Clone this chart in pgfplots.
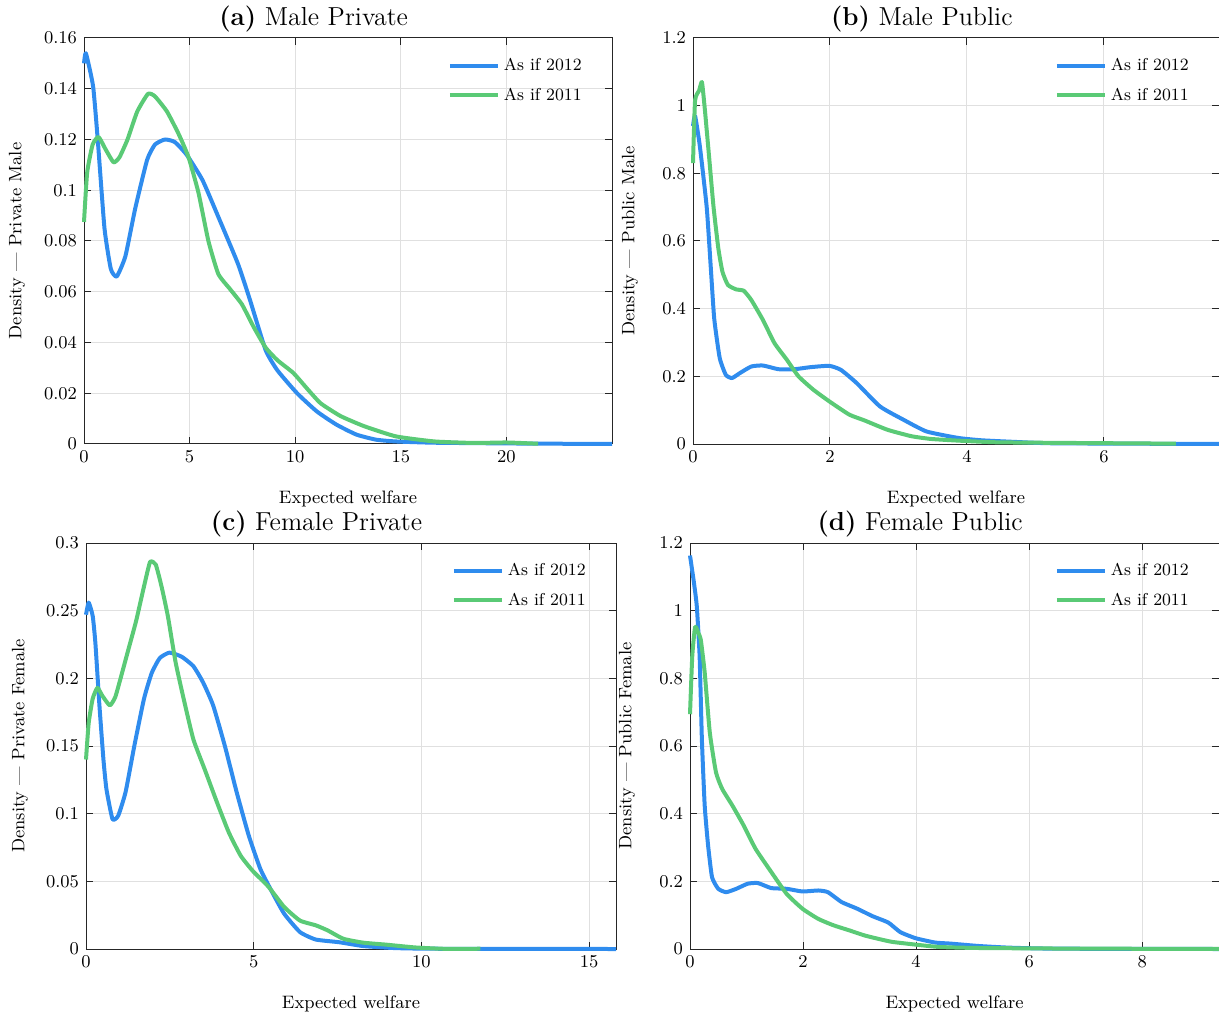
\documentclass[border=0pt]{standalone}
\usepackage{pgfplots}
\pgfplotsset{compat=1.18}
\definecolor{cblue}{RGB}{47,140,238}
\definecolor{cgreen}{RGB}{90,202,118}
\pgfplotsset{
  panel/.style={
    scale only axis, anchor=north west,
    xmin=0, ymin=0, clip=false,
    grid=major, major grid style={black!12, line width=0.5pt},
    axis line style={black!85, line width=0.5pt},
    tick style={black!85, line width=0.5pt},
    major tick length=3.5pt,
    tick align=inside,
    tick label style={font=\fontsize{9}{10}\selectfont},
    scaled y ticks=false,
    yticklabel style={/pgf/number format/fixed, /pgf/number format/precision=2},
    xlabel={Expected welfare},
    xlabel style={font=\fontsize{9}{10}\selectfont, at={([yshift=-27.5pt]axis description cs:0.5,0)}, anchor=center},
    ylabel style={font=\fontsize{9}{10}\selectfont, anchor=center},
    legend style={draw=none, fill=none, at={(axis description cs:1,1)}, anchor=north east,
      xshift=-10pt, yshift=-6pt, font=\fontsize{8.6}{10}\selectfont, row sep=3pt},
    legend cell align=left,
    legend image code/.code={\draw[#1, line width=2pt] (-3pt,0pt) -- (21pt,0pt);},
    every axis plot/.append style={line width=2pt, line join=round, smooth, tension=0.3},
  }
}
\newcommand{\paneltitle}[1]{\node[font=\fontsize{13}{14}\selectfont, anchor=center] at ([yshift=9.5pt]rel axis cs:0.435,1) {#1};}
\begin{document}
\begin{tikzpicture}
\path[use as bounding box] (0,0) rectangle (609.5pt,-507.5pt);

% (a)
\begin{axis}[panel, at={(42pt,-19pt)}, width=264pt, height=203pt,
  xmax=25, ymax=0.16, xtick={0,5,10,15,20}, ytick={0,0.02,0.04,0.06,0.08,0.1,0.12,0.14,0.16},
  ylabel={Density --- Private Male},
  ylabel style={at={([xshift=-33.5pt]axis description cs:0,0.5)}}]
\addplot[cblue] coordinates {(0,0.150)(0.09,0.154)(0.43,0.141)(0.65,0.120)(0.97,0.085)(1.27,0.069)(1.55,0.066)(1.96,0.074)(2.43,0.093)(2.99,0.112)(3.36,0.118)(3.83,0.120)(4.30,0.119)(4.86,0.114)(5.61,0.104)(6.36,0.0895)(7.29,0.071)(7.85,0.057)(8.60,0.037)(9.16,0.029)(10.09,0.020)(11.03,0.0128)(11.96,0.0076)(12.9,0.0037)(13.83,0.0017)(14.77,0.001)(16.6,0.0005)(20.4,0.0002)(25,0)};
\addlegendentry{As if 2012}
\addplot[cgreen] coordinates {(0,0.0875)(0.15,0.107)(0.41,0.118)(0.69,0.121)(1.03,0.116)(1.40,0.111)(1.68,0.113)(2.06,0.120)(2.52,0.131)(3.03,0.138)(3.36,0.137)(3.93,0.131)(4.49,0.122)(4.95,0.113)(5.42,0.099)(5.89,0.080)(6.36,0.067)(6.92,0.061)(7.48,0.055)(8.04,0.046)(8.60,0.038)(9.16,0.033)(9.91,0.028)(10.65,0.021)(11.21,0.016)(12.15,0.011)(13.27,0.007)(14.77,0.003)(16.6,0.001)(18.5,0.0004)(20,0.0006)(21.5,0.0001)};
\addlegendentry{As if 2011}
\paneltitle{\textbf{(a)} Male Private}
\end{axis}

% (b)
\begin{axis}[panel, at={(346.5pt,-19pt)}, width=263pt, height=203pt,
  xmax=7.68, ymax=1.2, xtick={0,2,4,6}, ytick={0,0.2,0.4,0.6,0.8,1,1.2},
  ylabel={Density --- Public Male},
  ylabel style={at={([xshift=-31.5pt]axis description cs:0,0.5)}}]
\addplot[cblue] coordinates {(0,0.94)(0.03,0.97)(0.1,0.88)(0.2,0.70)(0.26,0.52)(0.31,0.37)(0.39,0.254)(0.48,0.204)(0.57,0.195)(0.68,0.209)(0.85,0.229)(1.02,0.232)(1.25,0.221)(1.48,0.221)(1.71,0.227)(1.99,0.231)(2.16,0.219)(2.39,0.180)(2.73,0.111)(3.07,0.072)(3.41,0.037)(3.87,0.018)(4.21,0.011)(4.72,0.006)(5.29,0.002)(7.68,0)};
\addlegendentry{As if 2012}
\addplot[cgreen] coordinates {(0,0.83)(0.03,1.015)(0.09,1.045)(0.13,1.07)(0.17,0.995)(0.23,0.86)(0.30,0.70)(0.37,0.578)(0.43,0.509)(0.51,0.470)(0.63,0.457)(0.74,0.453)(0.85,0.426)(1.02,0.367)(1.19,0.298)(1.37,0.249)(1.54,0.2)(1.76,0.16)(1.99,0.126)(2.28,0.087)(2.50,0.070)(2.84,0.042)(3.19,0.023)(3.47,0.015)(3.87,0.010)(4.44,0.005)(5.57,0.003)(7.05,0.001)};
\addlegendentry{As if 2011}
\paneltitle{\textbf{(b)} Male Public}
\end{axis}

% (c)
\begin{axis}[panel, at={(43pt,-271.5pt)}, width=265pt, height=203pt,
  xmax=15.8, ymax=0.3, xtick={0,5,10,15}, ytick={0,0.05,0.1,0.15,0.2,0.25,0.3},
  ylabel={Density --- Private Female},
  ylabel style={at={([xshift=-33pt]axis description cs:0,0.5)}}]
\addplot[cblue] coordinates {(0,0.247)(0.08,0.256)(0.2,0.246)(0.28,0.226)(0.40,0.180)(0.52,0.140)(0.61,0.118)(0.79,0.096)(0.96,0.0985)(1.18,0.116)(1.44,0.150)(1.73,0.185)(1.96,0.204)(2.2,0.215)(2.49,0.219)(2.85,0.216)(3.2,0.209)(3.49,0.197)(3.79,0.180)(4.14,0.150)(4.49,0.116)(4.85,0.084)(5.2,0.059)(5.55,0.042)(5.91,0.026)(6.38,0.0125)(6.85,0.007)(7.55,0.005)(8.26,0.0022)(9.2,0.0007)(10.4,0.0002)(15.8,0)};
\addlegendentry{As if 2012}
\addplot[cgreen] coordinates {(0,0.140)(0.08,0.167)(0.2,0.185)(0.34,0.193)(0.49,0.187)(0.71,0.180)(0.87,0.186)(1.02,0.199)(1.26,0.221)(1.49,0.242)(1.73,0.268)(1.91,0.286)(2.08,0.284)(2.26,0.267)(2.44,0.246)(2.67,0.212)(2.91,0.185)(3.2,0.155)(3.55,0.132)(3.91,0.108)(4.26,0.086)(4.61,0.069)(4.96,0.058)(5.44,0.046)(5.91,0.031)(6.38,0.021)(6.85,0.0175)(7.2,0.0138)(7.67,0.0076)(8.26,0.0047)(8.96,0.0032)(9.79,0.0012)(10.6,0.0002)(11.76,0.0002)};
\addlegendentry{As if 2011}
\paneltitle{\textbf{(c)} Female Private}
\end{axis}

% (d)
\begin{axis}[panel, at={(345pt,-271.5pt)}, width=264.5pt, height=203pt,
  xmax=9.36, ymax=1.2, xtick={0,2,4,6,8}, ytick={0,0.2,0.4,0.6,0.8,1,1.2},
  ylabel={Density --- Public Female},
  ylabel style={at={([xshift=-31.5pt]axis description cs:0,0.5)}}]
\addplot[cblue] coordinates {(0,1.163)(0.07,1.082)(0.12,1.013)(0.17,0.866)(0.21,0.62)(0.26,0.424)(0.32,0.306)(0.39,0.212)(0.50,0.178)(0.64,0.168)(0.82,0.178)(1.02,0.193)(1.20,0.195)(1.44,0.180)(1.71,0.178)(1.99,0.170)(2.27,0.173)(2.44,0.168)(2.68,0.139)(2.96,0.119)(3.23,0.097)(3.51,0.078)(3.72,0.050)(3.99,0.032)(4.34,0.019)(4.61,0.016)(5.1,0.009)(5.65,0.004)(6.48,0.001)(9.36,0)};
\addlegendentry{As if 2012}
\addplot[cgreen] coordinates {(0,0.694)(0.04,0.866)(0.09,0.952)(0.145,0.935)(0.19,0.915)(0.26,0.817)(0.35,0.64)(0.46,0.522)(0.57,0.473)(0.75,0.424)(0.95,0.365)(1.16,0.296)(1.44,0.227)(1.71,0.163)(1.99,0.119)(2.27,0.089)(2.54,0.070)(2.82,0.055)(3.09,0.040)(3.37,0.0285)(3.58,0.021)(3.99,0.013)(4.41,0.006)(5.1,0.003)(7,0.001)(9.36,0.0005)};
\addlegendentry{As if 2011}
\paneltitle{\textbf{(d)} Female Public}
\end{axis}
\end{tikzpicture}
\end{document}
